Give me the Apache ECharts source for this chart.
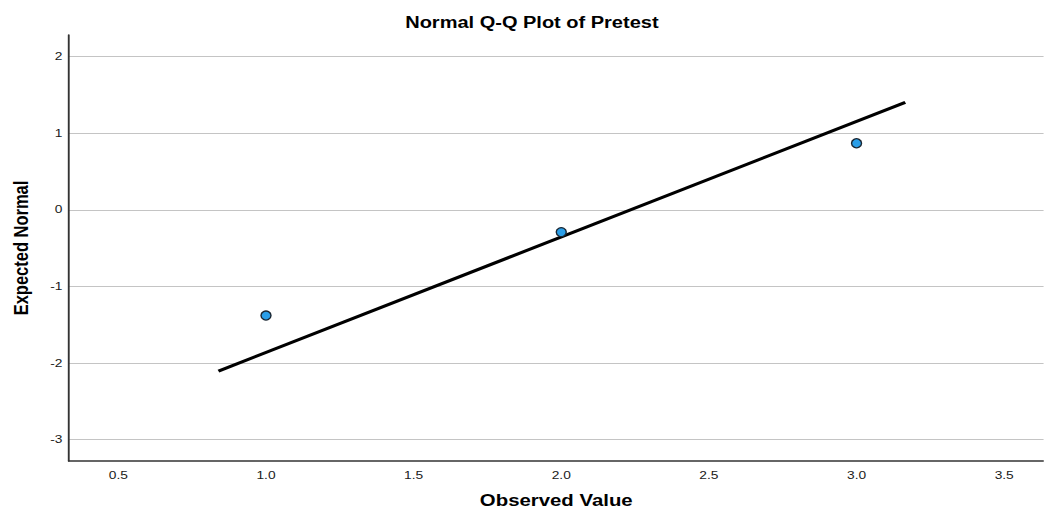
<!DOCTYPE html>
<html>
<head>
<meta charset="utf-8">
<title>Normal Q-Q Plot of Pretest</title>
<script src="https://cdn.jsdelivr.net/npm/echarts@6/dist/echarts.min.js"></script>
<style>
  html, body { margin: 0; padding: 0; background: #fff; overflow: hidden; }
  #wrap { width: 1044px; height: 514px; overflow: hidden; }
  /* the chart is laid out on a narrower canvas and widened horizontally */
  #chart { width: 835px; height: 514px; transform: scaleX(1.25); transform-origin: 0 0; }
</style>
</head>
<body>
<div id="wrap"><div id="chart"></div></div>
<script>
// Observed values and their expected normal scores
const observed = [1.0, 2.0, 3.0];
const expectedNormal = [-1.38, -0.29, 0.87];

// Reference line end points (observed, expected)
const refLineX = [0.839, 3.165];
const refLineY = [-2.105, 1.404];

// Tick labels
const xTicks = [0.5, 1.0, 1.5, 2.0, 2.5, 3.0, 3.5];
const yTicks = [-3, -2, -1, 0, 1, 2];

const FONT = '"Liberation Sans", Arial, sans-serif';

const chart = echarts.init(document.getElementById('chart'), null, { renderer: 'svg' });

chart.setOption({
  animation: false,
  backgroundColor: '#ffffff',
  title: {
    text: 'Normal Q-Q Plot of Pretest',
    left: 420.5,
    top: 10,
    textAlign: 'center',
    textStyle: { fontFamily: FONT, fontSize: 16, fontWeight: 'bold', color: '#000' }
  },
  grid: { left: 54, right: 0, top: 35, bottom: 53, containLabel: false },
  xAxis: {
    type: 'value',
    min: 0.332,
    max: 3.634,
    name: 'Observed Value',
    nameLocation: 'middle',
    nameGap: 31,
    nameTextStyle: { fontFamily: FONT, fontSize: 16.3, fontWeight: 'bold', color: '#000' },
    axisLine: { show: true, onZero: false, lineStyle: { color: '#333', width: 1.5 } },
    axisTick: { show: false, customValues: xTicks },
    splitLine: { show: false },
    axisLabel: {
      customValues: xTicks,
      formatter: v => Number(v).toFixed(1),
      margin: 9,
      fontFamily: FONT, fontSize: 11, color: '#1a1a1a'
    }
  },
  yAxis: {
    type: 'value',
    min: -3.28,
    max: 2.284,
    name: 'Expected Normal',
    nameLocation: 'middle',
    nameGap: 30,
    nameTextStyle: { fontFamily: FONT, fontSize: 16.5, fontWeight: 'bold', color: '#000' },
    axisLine: { show: true, onZero: false, lineStyle: { color: '#333', width: 1.5 } },
    axisTick: { show: false, customValues: yTicks },
    splitLine: { show: true, lineStyle: { color: '#c4c4c4', width: 1 } },
    axisLabel: {
      customValues: yTicks,
      formatter: v => String(v),
      margin: 5,
      fontFamily: FONT, fontSize: 11, color: '#1a1a1a'
    }
  },
  series: [
    {
      name: 'Reference line',
      type: 'line',
      data: refLineX.map((x, i) => [x, refLineY[i]]),
      showSymbol: false,
      symbol: 'none',
      lineStyle: { color: '#000', width: 3 },
      z: 2
    },
    {
      name: 'Pretest',
      type: 'scatter',
      data: observed.map((x, i) => [x, expectedNormal[i]]),
      symbol: 'circle',
      symbolSize: [8, 9],
      itemStyle: { color: '#2a9ee8', borderColor: '#1b2733', borderWidth: 1.2, opacity: 1 },
      z: 3
    }
  ]
});
</script>
</body>
</html>
